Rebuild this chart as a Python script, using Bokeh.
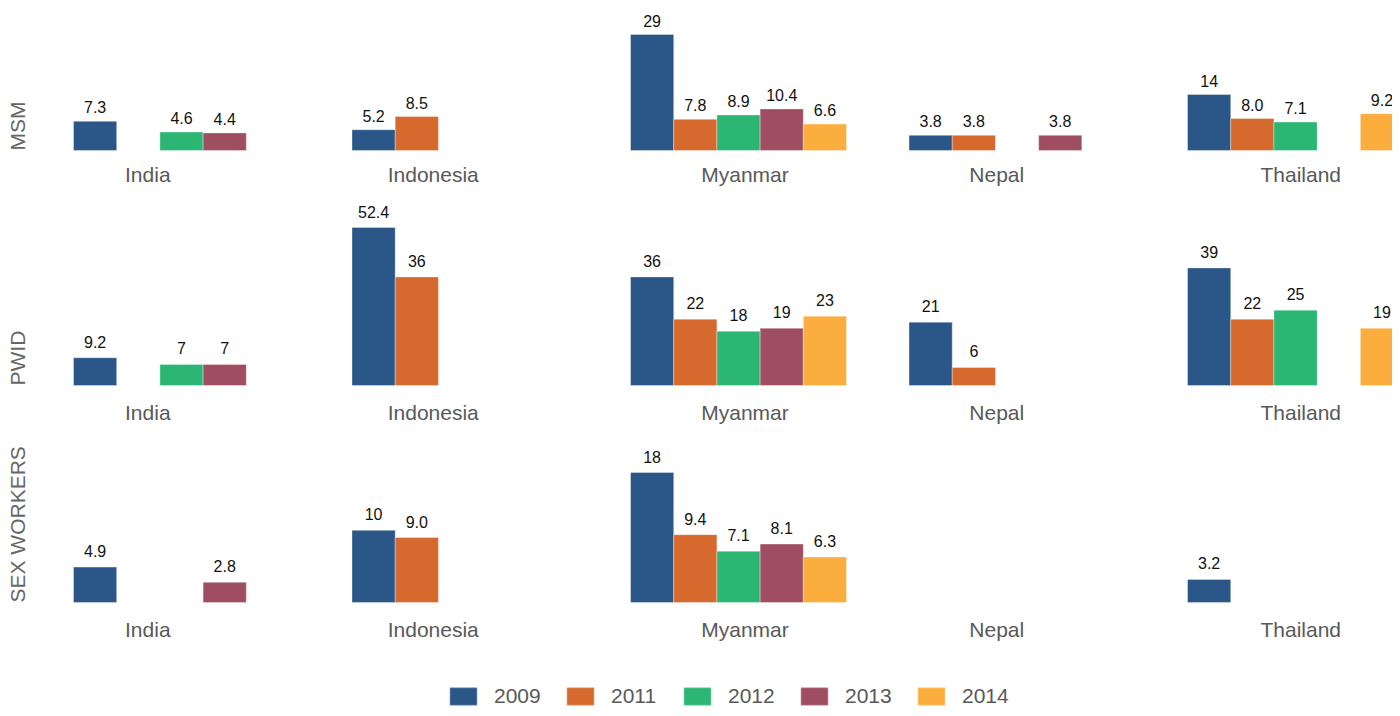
import math
from bokeh.plotting import figure
from bokeh.models import ColumnDataSource, Range1d, Legend, LegendItem, Label
from bokeh.core.properties import value
from bokeh.embed import file_html
from bokeh.resources import INLINE

# ---------------- data ----------------
countries = ["India", "Indonesia", "Myanmar", "Nepal", "Thailand"]
years = ["2009", "2011", "2012", "2013", "2014"]
populations = ["MSM", "PWID", "SEX WORKERS"]

# one row per country, one entry per year (None = no data); strings keep the printed format
msm = [
    ["7.3", None, "4.6", "4.4", None],
    ["5.2", "8.5", None, None, None],
    ["29", "7.8", "8.9", "10.4", "6.6"],
    ["3.8", "3.8", None, "3.8", None],
    ["14", "8.0", "7.1", None, "9.2"],
]
pwid = [
    ["9.2", None, "7", "7", None],
    ["52.4", "36", None, None, None],
    ["36", "22", "18", "19", "23"],
    ["21", "6", None, None, None],
    ["39", "22", "25", None, "19"],
]
sex_workers = [
    ["4.9", None, None, "2.8", None],
    ["10", "9.0", None, None, None],
    ["18", "9.4", "7.1", "8.1", "6.3"],
    [None, None, None, None, None],
    ["3.2", None, None, None, None],
]

year_colors = ["#2a5788", "#d66a2e", "#2bb673", "#9f4e62", "#fbae3e"]

# ---------------- layout / style ----------------
FONT = "Liberation Sans"
W, H = 1392, 708
SLOT_PX = 43.2            # pixel width of one year slot
GROUP_STEP = 6.447        # distance between country groups, in slots
FIRST_BAR_PX = 73         # frame x of the first bar
LABEL_CENTER = [1.72, 1.88, 2.65, 2.03, 2.62]   # country label centre, slots from group start
# baseline (frame px from top) and pixels per unit for each panel row
ROW_LAYOUT = [(150, 4.0), (385, 3.015), (602, 7.22)]
VALUE_OFFSET = [14, 16, 16]
COUNTRY_OFFSET = [24, 27, 27]

x_start = -FIRST_BAR_PX / SLOT_PX
p = figure(
    width=W, height=H, output_backend="svg", toolbar_location=None,
    x_range=Range1d(x_start, x_start + W / SLOT_PX), y_range=Range1d(0, 1),
    x_axis_location=None, y_axis_location=None,
    min_border=0, min_border_left=0, min_border_right=0, min_border_top=0, min_border_bottom=0,
)
p.outline_line_color = None
p.grid.visible = False
p.background_fill_color = "white"
p.border_fill_color = "white"

row_data = [msm, pwid, sex_workers]
year_renderers = {y: [] for y in years}

for r, (name, data) in enumerate(zip(populations, row_data)):
    base, scale = ROW_LAYOUT[r]
    rng = f"row{r}"
    p.extra_y_ranges[rng] = Range1d(-(H - base) / scale, base / scale)

    for j, year in enumerate(years):
        xs, tops, labels = [], [], []
        for i in range(len(countries)):
            v = data[i][j]
            if v is not None:
                xs.append(i * GROUP_STEP + j + 0.5)
                tops.append(float(v))
                labels.append(v)
        src = ColumnDataSource(dict(x=xs, top=tops, label=labels))
        rend = p.vbar(x="x", top="top", bottom=0, width=1, source=src, y_range_name=rng,
                      fill_color=year_colors[j], line_color="white", line_alpha=0.35, line_width=1)
        year_renderers[year].append(rend)
        p.text(x="x", y="top", text="label", source=src, y_range_name=rng,
               text_align="center", text_baseline="alphabetic", y_offset=-VALUE_OFFSET[r],
               text_font=value(FONT), text_font_size="16px", text_color="#111111")

    p.text(x=[i * GROUP_STEP + LABEL_CENTER[i] for i in range(len(countries))],
           y=[0] * len(countries), text=countries, y_range_name=rng,
           text_align="center", text_baseline="alphabetic", y_offset=COUNTRY_OFFSET[r],
           text_font=value(FONT), text_font_size="21px", text_color="#595959")

    p.add_layout(Label(x=28, x_units="screen", y=0, y_range_name=rng, text=name,
                       angle=math.pi / 2, text_align="left", text_baseline="bottom",
                       text_font=FONT, text_font_size="21px", text_color="#666666"))

legend = Legend(
    items=[LegendItem(label=y, renderers=year_renderers[y]) for y in years],
    orientation="horizontal", location=(446, 0),
    glyph_width=34, glyph_height=22, label_height=22, label_width=48,
    label_standoff=14, spacing=21, padding=0, margin=0,
    border_line_alpha=0, background_fill_alpha=0,
    label_text_font=FONT, label_text_font_size="21px", label_text_color="#595959",
)
p.add_layout(legend)

open("out.html", "w").write(file_html(p, INLINE))
